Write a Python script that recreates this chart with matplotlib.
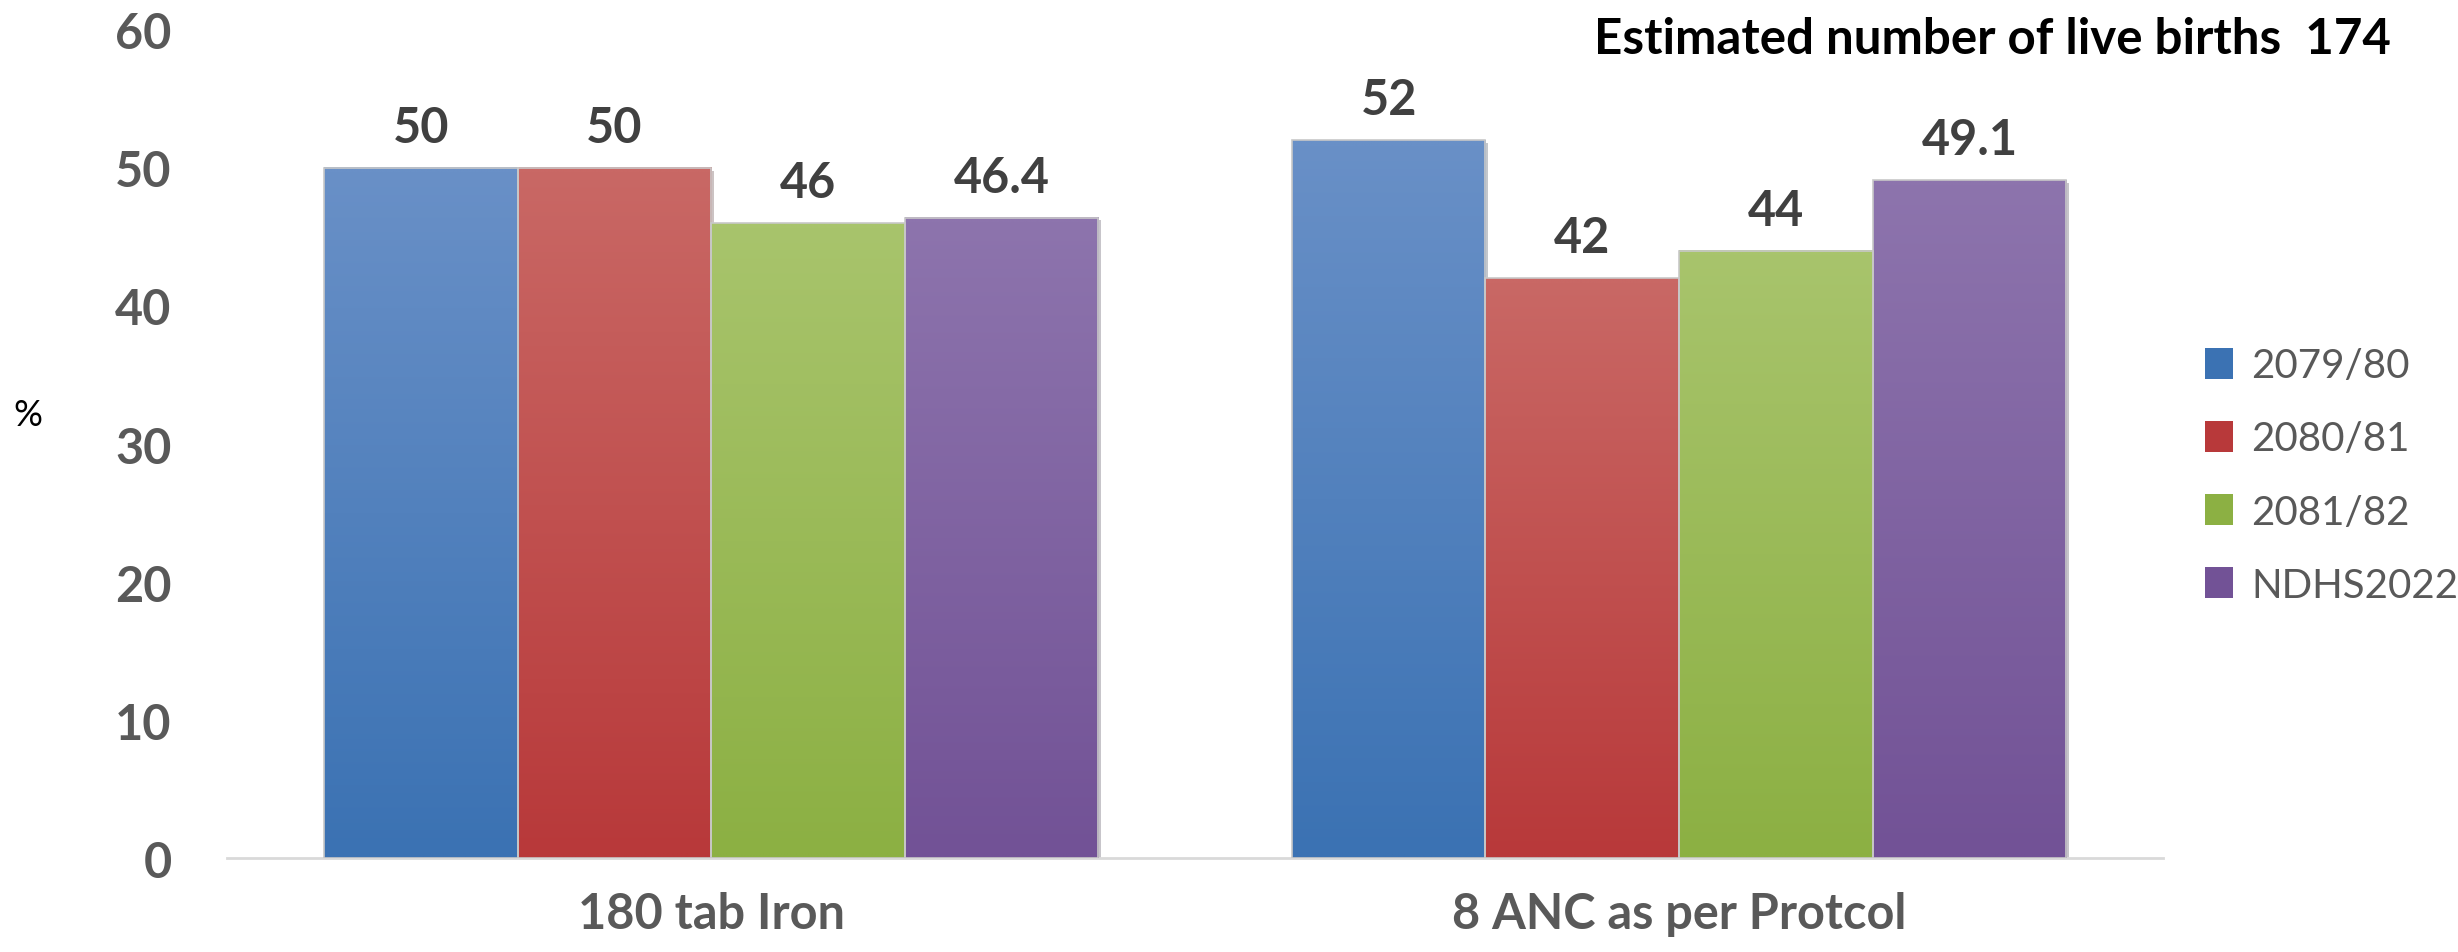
import numpy as np
import matplotlib
matplotlib.use("Agg")
from matplotlib import pyplot as plt
from matplotlib import patheffects
from matplotlib.patches import Patch, Rectangle
from matplotlib.colors import to_rgb

categories = ["180 tab Iron", "8 ANC as per Protcol"]
series_names = ["2079/80", "2080/81", "2081/82", "NDHS2022"]
v_2079_80 = [50, 52]
v_2080_81 = [50, 42]
v_2081_82 = [46, 44]
v_ndhs2022 = [46.4, 49.1]
y_ticks = [0, 10, 20, 30, 40, 50, 60]

# excel-like gradient: (top, bottom)
grads = [
    ("#6990C7", "#3B72B3"),
    ("#C96865", "#B8393A"),
    ("#A8C46C", "#8CB043"),
    ("#8D74AD", "#725296"),
]

plt.rcParams["font.family"] = ["Lato", "DejaVu Sans"]

fig = plt.figure(figsize=(24.58, 9.53), dpi=100)
ax = fig.add_axes([0.0924, 0.0986, 0.7876, 0.8689])

x = np.arange(len(categories))
width = 0.2
all_vals = [v_2079_80, v_2080_81, v_2081_82, v_ndhs2022]

for i, (name, vals) in enumerate(zip(series_names, all_vals)):
    top, bot = grads[i]
    bars = ax.bar(x + (i - 1.5) * width, vals, width, color=bot, zorder=2,
                  label=name, linewidth=0)
    for b, v in zip(bars, vals):
        b.set_path_effects([patheffects.SimplePatchShadow(offset=(2, -2), alpha=0.25),
                            patheffects.Normal()])
        bx, by, bw, bh = b.get_x(), b.get_y(), b.get_width(), b.get_height()
        t = np.linspace(0, 1, 64)[:, None]
        c0, c1 = np.array(to_rgb(bot)), np.array(to_rgb(top))
        img = (c0 * (1 - t) + c1 * t)[:, None, :]
        ax.imshow(img, extent=[bx, bx + bw, by, by + bh], origin="lower",
                  aspect="auto", zorder=3, interpolation="bilinear")
        ax.add_patch(Rectangle((bx, by), bw, bh, fill=False, edgecolor="#C8C8C8",
                               linewidth=1.2, zorder=4))
        ax.annotate(f"{v:g}", (bx + bw / 2, by + bh), xytext=(0, 13),
                    textcoords="offset points", ha="center", va="bottom",
                    fontsize=35, fontweight="bold", color="#404040")

ax.set_xlim(-0.5, len(categories) - 0.5)
ax.set_ylim(0, 60)
ax.set_yticks(y_ticks)
ax.set_xticks(x)
ax.set_xticklabels(categories)
for s in ["top", "right", "left"]:
    ax.spines[s].set_visible(False)
ax.spines["bottom"].set_color("#D9D9D9")
ax.spines["bottom"].set_linewidth(2)
ax.tick_params(axis="both", length=0, labelsize=35, labelcolor="#595959")
ax.tick_params(axis="y", pad=40)
ax.tick_params(axis="x", pad=24)
for lbl in ax.get_xticklabels() + ax.get_yticklabels():
    lbl.set_fontweight("bold")

fig.text(28 / 2458, 1 - 415 / 953, "%", fontsize=26, ha="center", va="center",
         color="black")
fig.text(2391 / 2458, 1 - 39 / 953, "Estimated number of live births  174",
         fontsize=35.5, fontweight="bold", ha="right", va="center", color="black")

handles = [Patch(facecolor=g[1], edgecolor="none") for g in grads]
fig.legend(handles, series_names, loc="center left",
           bbox_to_anchor=(2205 / 2458, 0.5), frameon=False, fontsize=29,
           labelcolor="#595959", handlelength=0.7, handleheight=0.8,
           handletextpad=0.45, labelspacing=0.9, borderpad=0, borderaxespad=0)

fig.savefig("out.png", dpi=100)
